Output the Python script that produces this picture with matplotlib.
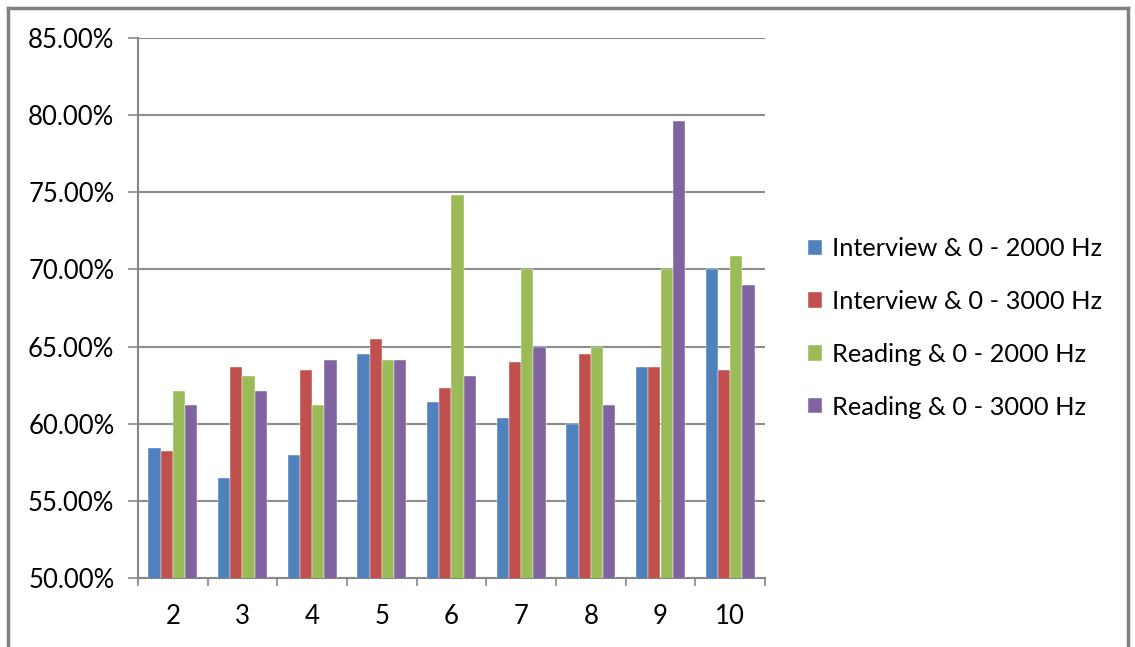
import matplotlib.pyplot as plt
from matplotlib.lines import Line2D
from matplotlib.ticker import FuncFormatter, FixedLocator
import numpy as np

plt.rcParams['font.family'] = ['Lato', 'DejaVu Sans']

categories = ['2', '3', '4', '5', '6', '7', '8', '9', '10']
series_names = ['Interview & 0 - 2000 Hz', 'Interview & 0 - 3000 Hz',
                'Reading & 0 - 2000 Hz', 'Reading & 0 - 3000 Hz']
interview_2000 = [58.4, 56.5, 58.0, 64.5, 61.4, 60.4, 60.0, 63.7, 70.0]
interview_3000 = [58.2, 63.7, 63.5, 65.5, 62.3, 64.0, 64.5, 63.7, 63.5]
reading_2000 = [62.1, 63.1, 61.2, 64.1, 74.8, 70.0, 65.0, 70.0, 70.9]
reading_3000 = [61.2, 62.1, 64.1, 64.1, 63.1, 65.0, 61.2, 79.6, 69.0]
colors = ['#4F81BD', '#C0504D', '#9BBB59', '#8064A2']

fig = plt.figure(figsize=(11.35, 6.47), dpi=100)
ax = fig.add_axes([138 / 1135, 1 - 578 / 647, (765 - 138) / 1135, (578 - 38) / 647])

x = np.arange(len(categories))
w = 0.177
all_series = [interview_2000, interview_3000, reading_2000, reading_3000]
for i, vals in enumerate(all_series):
    ax.bar(x + (i - 1.5) * w, vals, w, bottom=0, color=colors[i],
           label=series_names[i], zorder=3, edgecolor='white', linewidth=0.3)

ax.set_ylim(50, 85)
ax.set_xlim(-0.5, len(categories) - 0.5)
ax.set_yticks(np.arange(50, 86, 5))
ax.yaxis.set_major_formatter(FuncFormatter(lambda v, p: f'{v:.2f}%'))
ax.set_xticks(x)
ax.set_xticklabels(categories)
ax.xaxis.set_minor_locator(FixedLocator(np.arange(-0.5, len(categories), 1)))
ax.tick_params(axis='x', which='major', length=0, labelsize=18.5, pad=19)
ax.tick_params(axis='x', which='minor', length=6, color='#868686', width=1.2)
ax.tick_params(axis='y', length=7, color='#868686', width=1.2, labelsize=18.5, pad=10)

ax.grid(axis='y', color='#8c8c8c', linewidth=1.5, zorder=0)
for s in ['top', 'right']:
    ax.spines[s].set_visible(False)
for s in ['left', 'bottom']:
    ax.spines[s].set_color('#868686')
    ax.spines[s].set_linewidth(1.5)

ax.legend(loc='center left', bbox_to_anchor=(808 / 1135, 1 - 328 / 647),
          bbox_transform=fig.transFigure, frameon=False, fontsize=18.3,
          handlelength=0.55, handleheight=0.55, handletextpad=0.4,
          labelspacing=1.17, borderpad=0, borderaxespad=0)

# outer frame of the chart (bottom edge is cropped in the original)
frame_kw = dict(color='#808080', linewidth=2.5, transform=fig.transFigure)
fig.add_artist(Line2D([8 / 1135, 8 / 1135], [0, 1 - 8 / 647], **frame_kw))
fig.add_artist(Line2D([8 / 1135, 1128 / 1135], [1 - 8 / 647, 1 - 8 / 647], **frame_kw))
fig.add_artist(Line2D([1128 / 1135, 1128 / 1135], [0, 1 - 8 / 647], **frame_kw))

fig.savefig('out.png', dpi=100)
